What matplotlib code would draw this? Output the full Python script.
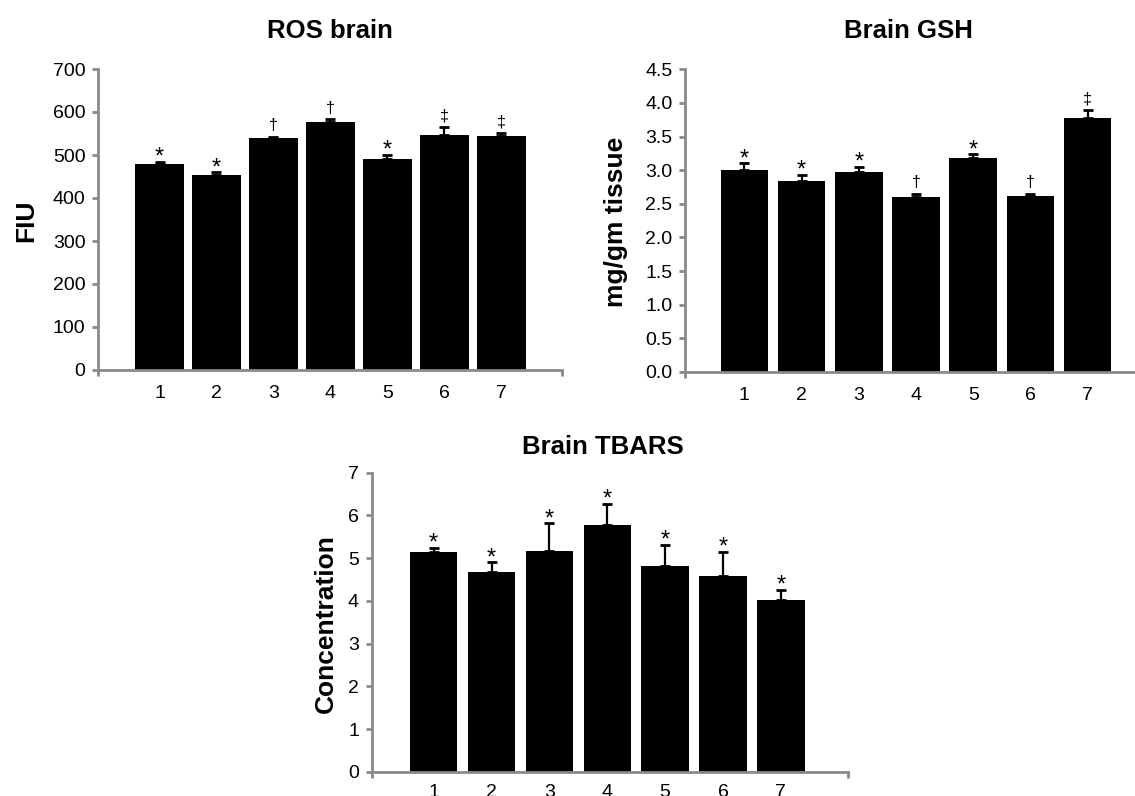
import matplotlib
matplotlib.use("Agg")
import matplotlib.pyplot as plt
import numpy as np

plt.rcParams['font.family'] = ['Liberation Sans', 'DejaVu Sans']

groups = ['1', '2', '3', '4', '5', '6', '7']

ros_vals = [479, 453, 539, 577, 491, 547, 544]
ros_err = [5, 7, 4, 7, 10, 19, 7]
ros_marks = ['*', '*', '†', '†', '*', '‡', '‡']

gsh_vals = [3.00, 2.84, 2.97, 2.60, 3.18, 2.62, 3.78]
gsh_err = [0.10, 0.09, 0.08, 0.05, 0.06, 0.03, 0.12]
gsh_marks = ['*', '*', '*', '†', '*', '†', '‡']

tbars_vals = [5.14, 4.67, 5.18, 5.77, 4.81, 4.58, 4.02]
tbars_err = [0.11, 0.23, 0.64, 0.50, 0.51, 0.57, 0.24]
tbars_marks = ['*', '*', '*', '*', '*', '*', '*']

W, H = 1135, 796
fig = plt.figure(figsize=(W / 100, H / 100), dpi=100)

GREY = '#8a8a8a'


def px_axes(left, right, top, bottom):
    return fig.add_axes([left / W, 1 - bottom / H, (right - left) / W, (bottom - top) / H])


def panel(ax, vals, err, marks, ylim, yticks, yfmt, xlim, width, tick_fs, xpad):
    x = np.arange(1, len(vals) + 1)
    ax.bar(x, vals, width=width, color='black', edgecolor='none', zorder=2)
    ax.errorbar(x, vals, yerr=[np.zeros(len(err)), err], fmt='none', ecolor='black',
                elinewidth=1.6, capsize=3.6, capthick=2.0, zorder=3)
    ax.set_xlim(*xlim)
    ax.set_ylim(*ylim)
    ax.set_yticks(yticks)
    ax.set_yticklabels([yfmt.format(v) for v in yticks], fontsize=tick_fs)
    ax.set_xticks(list(xlim))
    ax.set_xticklabels(['', ''])
    ax.set_xticks(x, minor=True)
    ax.set_xticklabels(groups, minor=True, fontsize=tick_fs)
    ax.tick_params(axis='x', which='minor', length=0, pad=xpad)
    ax.tick_params(axis='x', which='major', length=4, width=2.0, color=GREY, direction='out')
    ax.tick_params(axis='y', which='major', length=4, width=2.0, color=GREY, direction='out', pad=5)
    for s in ['top', 'right']:
        ax.spines[s].set_visible(False)
    for s in ['left', 'bottom']:
        ax.spines[s].set_color(GREY)
        ax.spines[s].set_linewidth(2.0)
    for xi, v, e, m in zip(x, vals, err, marks):
        if m == '*':
            ax.annotate(m, xy=(xi, v + e), xytext=(0, -1.5), textcoords='offset points',
                        ha='center', va='baseline', fontsize=17, zorder=4)
        else:
            ax.annotate(m, xy=(xi, v + e), xytext=(0, 4.5), textcoords='offset points',
                        ha='center', va='baseline', fontsize=11.5, zorder=4)


ax1 = px_axes(98, 562, 69, 370)
panel(ax1, ros_vals, ros_err, ros_marks, (0, 700), list(range(0, 701, 100)), '{:.0f}',
      (-0.08, 8.065), 0.86, 14, 11)

ax2 = px_axes(685, 1150, 69.3, 372)
panel(ax2, gsh_vals, gsh_err, gsh_marks, (0, 4.5), list(np.arange(0, 4.51, 0.5)), '{:.1f}',
      (-0.038, 8.09), 0.83, 14, 10.5)

ax3 = px_axes(371.5, 848.3, 472.7, 772)
panel(ax3, tbars_vals, tbars_err, tbars_marks, (0, 7), list(range(0, 8)), '{:.0f}',
      (-0.075, 8.167), 0.82, 14, 8.5)

# Titles
fig.text(330 / W, 1 - 37.5 / H, 'ROS brain', ha='center', va='baseline', fontsize=18.5, fontweight='bold')
fig.text(908 / W, 1 - 37.5 / H, 'Brain GSH', ha='center', va='baseline', fontsize=18.5, fontweight='bold')
fig.text(602.5 / W, 1 - 454 / H, 'Brain TBARS', ha='center', va='baseline', fontsize=18.5, fontweight='bold')

# Y labels
fig.text(33.3 / W, 1 - 221 / H, 'FIU', rotation=90, rotation_mode='anchor', ha='center',
         va='baseline', fontsize=19, fontweight='bold')
fig.text(623.3 / W, 1 - 221.7 / H, 'mg/gm tissue', rotation=90, rotation_mode='anchor', ha='center',
         va='baseline', fontsize=19, fontweight='bold')
fig.text(333.3 / W, 1 - 623.3 / H, 'Concentration', rotation=90, rotation_mode='anchor', ha='center',
         va='baseline', fontsize=19, fontweight='bold')

fig.savefig('out.png', dpi=100)
